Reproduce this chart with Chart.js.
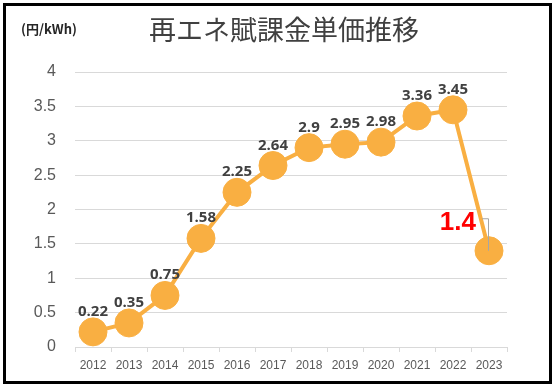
<!DOCTYPE html>
<html>
<head>
<meta charset="utf-8">
<script src="https://cdn.jsdelivr.net/npm/chart.js@4"></script>
<style>
  html, body { margin: 0; padding: 0; background: #fff; }
  #wrap { position: relative; width: 556px; height: 388px; }
  #myChart { position: absolute; left: 0; top: 0; }
  #frame { position: absolute; left: 3px; top: 3px; width: 549px; height: 381px;
           border: 3px solid #000; box-sizing: border-box; pointer-events: none; }
</style>
</head>
<body>
<div id="wrap">
  <canvas id="myChart" width="556" height="388"></canvas>
  <div id="frame"></div>
</div>
<script>
// 再エネ賦課金単価 (円/kWh)
const years = ["2012", "2013", "2014", "2015", "2016", "2017", "2018", "2019", "2020", "2021", "2022", "2023"];
const rates = [0.22, 0.35, 0.75, 1.58, 2.25, 2.64, 2.9, 2.95, 2.98, 3.36, 3.45, 1.4];
const yTicks = [0, 0.5, 1, 1.5, 2, 2.5, 3, 3.5, 4];

const orange = "#F9AF42";

// 値ラベル、タイトル、単位
const labelPlugin = {
    id: "labels",
    afterDatasetsDraw(chart) {
        const c = chart.ctx;
        const pts = chart.getDatasetMeta(0).data;
        c.save();
        pts.forEach((p, i) => {
            if (i === pts.length - 1) return;
            c.font = "bold 15px 'Open Sans'";
            c.fillStyle = "#404040";
            c.textAlign = "center";
            c.textBaseline = "alphabetic";
            c.fillText(String(rates[i]), p.x, p.y - 16);
        });
        // 最後の値 (赤)
        const last = pts[pts.length - 1];
        c.strokeStyle = "#a6a6a6";
        c.lineWidth = 1;
        c.beginPath();
        c.moveTo(last.x - 7, last.y - 32);
        c.lineTo(last.x - 0.5, last.y - 32);
        c.lineTo(last.x - 0.5, last.y);
        c.stroke();
        c.font = "bold 26px 'Liberation Sans'";
        c.fillStyle = "#FF0000";
        c.textAlign = "right";
        c.fillText(String(rates[rates.length - 1]), last.x - 13, last.y - 21);

        c.fillStyle = "#404040";
        c.textAlign = "center";
        c.textBaseline = "middle";
        c.font = "27px 'Noto Sans CJK JP'";
        c.fillText("再エネ賦課金単価推移", 284, 30);
        c.textAlign = "left";
        c.fillStyle = "#262626";
        c.font = "bold 13px 'Noto Sans CJK JP'";
        c.fillText("(円/kWh)", 21, 29);
        c.restore();
    }
};

const ctx = document.getElementById("myChart");
new Chart(ctx, {
    type: "line",
    data: {
        labels: years,
        datasets: [
            {
                label: "賦課金単価",
                data: rates,
                borderColor: orange,
                backgroundColor: orange,
                borderWidth: 4,
                pointRadius: 14,
                pointBorderWidth: 1,
                pointBorderColor: orange,
                pointBackgroundColor: orange,
                tension: 0,
                clip: false,
            },
        ],
    },
    options: {
        responsive: false,
        animation: false,
        events: [],
        layout: { padding: { left: 0, right: 49, top: 72, bottom: 0 } },
        plugins: {
            legend: { display: false },
            title: { display: false },
            tooltip: { enabled: false },
        },
        scales: {
            x: {
                offset: true,
                grid: {
                    offset: true,
                    drawOnChartArea: false,
                    drawTicks: true,
                    tickLength: 5,
                    color: "#d9d9d9",
                },
                border: { color: "#d9d9d9", width: 1 },
                ticks: {
                    color: "#595959",
                    font: { family: "'Liberation Sans'", size: 12 },
                    padding: 6,
                    maxRotation: 0,
                    autoSkip: false,
                },
                afterFit(scale) { scale.height = 41; },
            },
            y: {
                min: 0,
                max: 4,
                afterBuildTicks(scale) {
                    scale.ticks = yTicks.map(v => ({ value: v }));
                },
                grid: { color: "#d9d9d9", drawTicks: false },
                border: { display: false },
                ticks: {
                    color: "#595959",
                    font: { family: "'Liberation Sans'", size: 16 },
                    padding: 19,
                    callback: v => String(v),
                },
                afterFit(scale) { scale.width = 75; },
            },
        },
    },
    plugins: [labelPlugin],
});
</script>
</body>
</html>
